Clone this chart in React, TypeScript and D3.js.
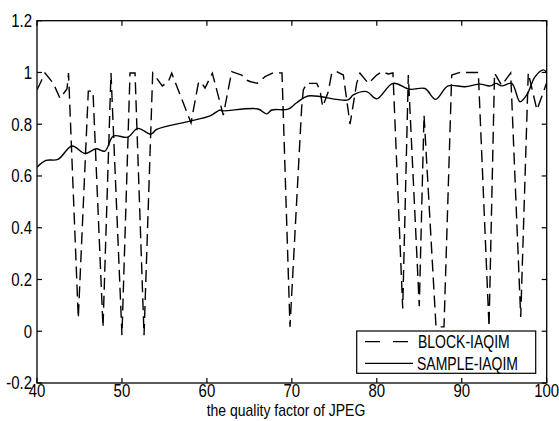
import React from "react";
import * as d3 from "d3";

const xTicks = [40, 50, 60, 70, 80, 90, 100];
const xTickLabels = ["40", "50", "60", "70", "80", "90", "100"];
const yTicks = [-0.2, 0, 0.2, 0.4, 0.6, 0.8, 1, 1.2];
const yTickLabels = ["-0.2", "0", "0.2", "0.4", "0.6", "0.8", "1", "1.2"];

const seriesNames = ["BLOCK-IAQIM", "SAMPLE-IAQIM"];

const blockX = [40.0, 40.94, 41.92, 42.71, 43.53, 43.71, 44.86, 46.04, 46.59, 47.77, 48.71, 50.0, 50.95, 51.54, 52.6, 53.62, 54.75, 55.46, 55.86, 58.13, 58.99, 59.27, 59.78, 60.64, 61.93, 62.92, 64.1, 64.69, 65.16, 65.93, 66.84, 67.82, 68.84, 69.78, 71.16, 71.35, 71.75, 72.93, 73.31, 73.63, 74.29, 74.69, 75.28, 76.06, 76.85, 77.63, 78.02, 79.0, 79.99, 80.58, 81.35, 81.9, 83.05, 83.71, 85.0, 85.56, 86.97, 87.91, 88.82, 89.79, 90.97, 91.95, 93.21, 93.86, 94.7, 95.76, 96.94, 97.83, 98.85, 100];
const blockY = [0.932, 0.998, 0.958, 0.9, 0.936, 0.998, 0.05, 0.928, 0.928, 0.015, 0.998, -0.015, 0.998, 0.998, -0.015, 0.998, 0.948, 0.965, 0.997, 0.805, 0.958, 0.965, 0.94, 0.997, 0.835, 1.003, 0.99, 0.97, 0.964, 0.958, 0.984, 0.999, 0.998, 0.017, 0.868, 0.932, 0.958, 0.958, 0.932, 0.868, 0.926, 0.997, 1.003, 0.99, 0.8, 0.958, 0.997, 0.958, 0.99, 1.003, 0.994, 0.998, 0.088, 0.99, 0.097, 0.835, 0.017, 0.017, 0.99, 1.0, 1.0, 1.0, 0.017, 0.998, 0.95, 0.998, 0.055, 0.998, 0.855, 0.96];

const sampleX = [40.0, 41.06, 42.47, 44.12, 45.65, 46.95, 48.0, 48.98, 50.71, 51.85, 53.42, 54.09, 58.01, 60.37, 61.55, 61.74, 66.02, 67.04, 67.63, 69.55, 70.57, 71.9, 76.61, 77.23, 78.81, 79.99, 81.9, 83.91, 85.67, 86.93, 88.38, 90.38, 92.15, 93.33, 94.03, 94.7, 95.88, 96.86, 97.65, 98.62, 99.6, 100];
const sampleY = [0.634, 0.66, 0.664, 0.716, 0.687, 0.705, 0.696, 0.754, 0.75, 0.784, 0.762, 0.78, 0.812, 0.832, 0.855, 0.852, 0.859, 0.84, 0.855, 0.858, 0.883, 0.909, 0.894, 0.913, 0.926, 0.898, 0.958, 0.935, 0.938, 0.896, 0.948, 0.945, 0.955, 0.948, 0.958, 0.948, 0.958, 0.887, 0.913, 0.983, 1.01, 1.0];

const W = 559;
const H = 421;
const left = 37;
const right = 546.7;
const top = 20.7;
const bottom = 383;
const FONT = "'Liberation Sans', Arial, Helvetica, sans-serif";

export default function App() {
  const x = d3.scaleLinear().domain([40, 100]).range([left, right]);
  const y = d3.scaleLinear().domain([-0.2, 1.2]).range([bottom, top]);

  const blockPts: [number, number][] = blockX.map((v, i) => [v, blockY[i]]);
  const samplePts: [number, number][] = sampleX.map((v, i) => [v, sampleY[i]]);

  const lineLinear = d3
    .line<[number, number]>()
    .x((d) => x(d[0]))
    .y((d) => y(d[1]));
  const lineSmooth = d3
    .line<[number, number]>()
    .x((d) => x(d[0]))
    .y((d) => y(d[1]))
    .curve(d3.curveCatmullRom.alpha(0.5));

  const tickLen = 5;
  const tickFs = 15;
  const tickSy = 1.2;

  return (
    <svg
      width={W}
      height={H}
      style={{ position: "absolute", left: 0, top: 0, background: "#fff" }}
    >
      <defs>
        <clipPath id="plotclip">
          <rect x={left} y={top} width={right - left} height={bottom - top} />
        </clipPath>
      </defs>
      <rect x={0} y={0} width={W} height={H} fill="#fff" />

      <g clipPath="url(#plotclip)" fill="none" stroke="#000">
        <path d={lineSmooth(samplePts) || ""} strokeWidth={1.4} />
        <path d={lineLinear(blockPts) || ""} strokeWidth={1.4} strokeDasharray="12,6" />
      </g>

      {/* axes box */}
      <rect x={left} y={top} width={right - left} height={bottom - top} fill="none" stroke="#000" strokeWidth={1.3} />

      {/* x ticks */}
      {xTicks.map((t, i) => (
        <g key={"xt" + i}>
          <line x1={x(t)} x2={x(t)} y1={bottom} y2={bottom - tickLen} stroke="#000" strokeWidth={1.2} />
          <line x1={x(t)} x2={x(t)} y1={top} y2={top + tickLen} stroke="#000" strokeWidth={1.2} />
          <text
            transform={`translate(${x(t)},${397}) scale(1,${tickSy})`}
            textAnchor="middle"
            fontFamily={FONT}
            fontSize={tickFs}
            fill="#000"
          >
            {xTickLabels[i]}
          </text>
        </g>
      ))}

      {/* y ticks */}
      {yTicks.map((t, i) => (
        <g key={"yt" + i}>
          <line x1={left} x2={left + tickLen} y1={y(t)} y2={y(t)} stroke="#000" strokeWidth={1.2} />
          <line x1={right} x2={right - tickLen} y1={y(t)} y2={y(t)} stroke="#000" strokeWidth={1.2} />
          <text
            transform={`translate(${32},${y(t) + 0.358 * tickFs * tickSy}) scale(1,${tickSy})`}
            textAnchor="end"
            fontFamily={FONT}
            fontSize={tickFs}
            fill="#000"
          >
            {yTickLabels[i]}
          </text>
        </g>
      ))}

      {/* x label */}
      <text
        transform={`translate(${286},${415.5}) scale(1,1.15)`}
        textAnchor="middle"
        fontFamily={FONT}
        fontSize={14}
        fill="#000"
      >
        the quality factor of JPEG
      </text>

      {/* legend */}
      <g>
        <rect x={356.7} y={331} width={179} height={42.3} fill="#fff" stroke="#000" strokeWidth={1.2} />
        <line x1={365} x2={413} y1={341.7} y2={341.7} stroke="#000" strokeWidth={1.3} strokeDasharray="15,13" />
        <line x1={365} x2={413} y1={363.3} y2={363.3} stroke="#000" strokeWidth={1.3} />
        <text
          transform={`translate(${418},${341.7 + 0.358 * 14 * 1.3}) scale(1,1.3)`}
          fontFamily={FONT}
          fontSize={14}
          fill="#000"
        >
          {seriesNames[0]}
        </text>
        <text
          transform={`translate(${417},${363.3 + 0.358 * 14 * 1.3}) scale(1,1.3)`}
          fontFamily={FONT}
          fontSize={14}
          fill="#000"
        >
          {seriesNames[1]}
        </text>
      </g>
    </svg>
  );
}
